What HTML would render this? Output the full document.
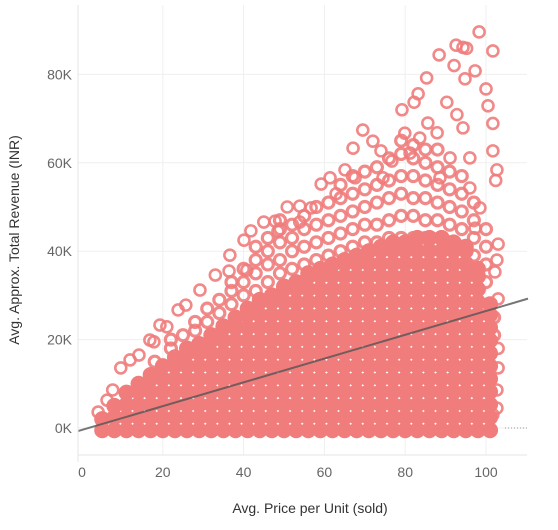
<!DOCTYPE html>
<html><head><meta charset="utf-8"><style>
body{margin:0;background:#fff;}
svg{display:block;font-family:"Liberation Sans",sans-serif;}
</style></head><body>
<svg id="chart" width="558" height="530">
<g id="grid"></g>
<g id="core"></g>
<g id="pts"></g>
<g id="trend"></g>
<g id="axes"></g>
<text x="310" y="513" text-anchor="middle" font-size="14" fill="#333">Avg. Price per Unit (sold)</text>
<text transform="translate(19,240) rotate(-90)" text-anchor="middle" font-size="14" fill="#333">Avg. Approx. Total Revenue (INR)</text>
</svg>
<script>
const xTicks=[0,20,40,60,80,100];
const yTicks=[0,20,40,60,80];
const yTickLabels=["0K","20K","40K","60K","80K"];
const coreX=[5,8,11,14,17,20,23,26,29,32,35,38,41,44,47,50,53,56,59,62,65,68,71,74,77,80,83,86,89,92,95,98,101];
const coreTop=[2,5,8,10,12,14,16,18,19,21,23,25,27,29,30,32,33,35,36,37,38,39,40,41,42,42,43,43,43,42,41,36,28];
const bandX=[18,22,22,25,28,28,31,31,34,34,37,37,37,40,40,40,43,43,43,43,46,46,46,46,49,49,49,49,49,52,52,52,52,55,55,55,55,58,58,58,58,61,61,61,61,64,64,64,64,64,67,67,67,67,67,70,70,70,70,70,73,73,73,73,73,76,76,76,76,76,79,79,79,79,79,79,82,82,82,82,82,82,85,85,85,85,85,85,88,88,88,88,88,88,91,91,91,91,91,94,94,94,94,94,97,97,97,97,100,100,100,100,102,102];
const bandY=[15,18,20,21,22,24,24,27,26,29,28,31,33,30,33,36,31,35,38,41,33,37,40,43,35,38,42,45,47,36,40,43,46,37,41,45,48,38,42,46,50,39,43,47,51,40,44,48,52,55,41,45,49,53,57,42,46,50,54,58,42,46,51,55,59,43,47,52,56,61,43,48,53,57,62,65,43,48,52,57,61,64,43,47,52,56,60,63,42,47,51,55,59,63,42,46,50,54,58,41,45,49,53,57,39,43,47,51,33,37,41,45,25,21];
const ptX=[98.3,92.6,94.3,95.2,101.7,88.4,92.1,97.3,85.3,94.8,100,90.3,82.2,83.2,79.2,100.5,101.7,69.5,72,67.1,74,101.7,65.1,74.5,102.7,102.4,59.2,56.7,62.9,50.8,45,41.8,40.1,48.5,53.9,36.4,40.8,25.7,21,17.8,14.1,9.6,7.6,4,103,102.7,102.2,103,103,103,102.7,102.7,101.7,85.6,87.9,92.8,94.3,91.1,96,83.6,79.9,81.2,76.7,88.6,96,98.5,97.3,67.6,61.4,53.9,47.8,36.6,33,29.2,23.8,19.3,16.8,11.9,6.2];
const ptY=[89.6,86.6,86.1,85.9,85.3,84.4,82,80.8,79.2,79,76.7,73.7,73.7,75.6,72,72.9,68.9,67.4,64.9,63.3,62.7,62.7,58.4,56.6,58.4,56,55.2,49.8,53,50,46.6,44.6,42.5,44.5,46.6,35.5,35.7,27.8,22.9,19.5,16.5,13.6,8.6,3.6,41.6,38,35.3,29.2,18,13.6,8.6,4.5,3,69,66.8,70.9,67.9,61.1,61.1,65.6,66.7,62.2,60.4,56.6,54.3,49.8,45.2,56.6,56.6,50.2,46.8,39.1,34.6,31.2,26.7,23.3,19.9,15.4,6.3];
const trendSlope=0.269, trendIntercept=-0.43;
const X0=82,XS=4.04,Y0=428,YS=4.42;
const sx=v=>X0+v*XS, sy=v=>Y0-v*YS;
const NS="http://www.w3.org/2000/svg";
function mk(t,a,p){const e=document.createElementNS(NS,t);for(const k in a)e.setAttribute(k,a[k]);p.appendChild(e);return e;}
const grid=document.getElementById('grid'),axes=document.getElementById('axes');
xTicks.forEach(t=>{if(t>0)mk('line',{x1:sx(t),x2:sx(t),y1:5,y2:455,stroke:'#efefef'},grid);
 const l=mk('text',{x:sx(t),y:477,'text-anchor':'middle','font-size':14,fill:'#666'},axes);l.textContent=t;
 
 });
yTicks.forEach((t,i)=>{mk('line',{x1:78,x2:527,y1:sy(t),y2:sy(t),stroke:'#efefef'},grid);
 const l=mk('text',{x:72,y:sy(t)+5,'text-anchor':'end','font-size':14,fill:'#666'},axes);l.textContent=yTickLabels[i];
 
 });
mk('line',{x1:78,x2:78,y1:5,y2:462,stroke:'#e6e6e6'},axes);
mk('line',{x1:78,x2:527,y1:455,y2:455,stroke:'#e6e6e6'},axes);
const core=document.getElementById('core'),pts=document.getElementById('pts');
const col='#f07c7c';
coreX.forEach((x,i)=>{const top=coreTop[i];const ks=[];for(let k=-0.5;k<top;k+=2.9)ks.push(k);ks.push(top);
 ks.forEach(k=>{const c=mk('circle',{cx:sx(x),cy:sy(k),r:8,fill:col},core);
 
 });});
function ring(x,y,w){const c=mk('circle',{cx:sx(x),cy:sy(y),r:5.5,fill:'none',stroke:col,'stroke-width':w,opacity:0.9},pts);
 
 }
bandX.forEach((x,i)=>ring(x,bandY[i],3.2));
ptX.forEach((x,i)=>ring(x,ptY[i],2.6));
const tr=document.getElementById('trend');
const l=mk('line',{x1:78,y1:sy(trendIntercept+trendSlope*((78-X0)/XS)),x2:528,y2:sy(trendIntercept+trendSlope*((528-X0)/XS)),stroke:'#555','stroke-width':2,opacity:0.8},tr);


mk('line',{x1:505,x2:527,y1:sy(0),y2:sy(0),stroke:'#999','stroke-dasharray':'1,2'},axes);
</script>
</body></html>
